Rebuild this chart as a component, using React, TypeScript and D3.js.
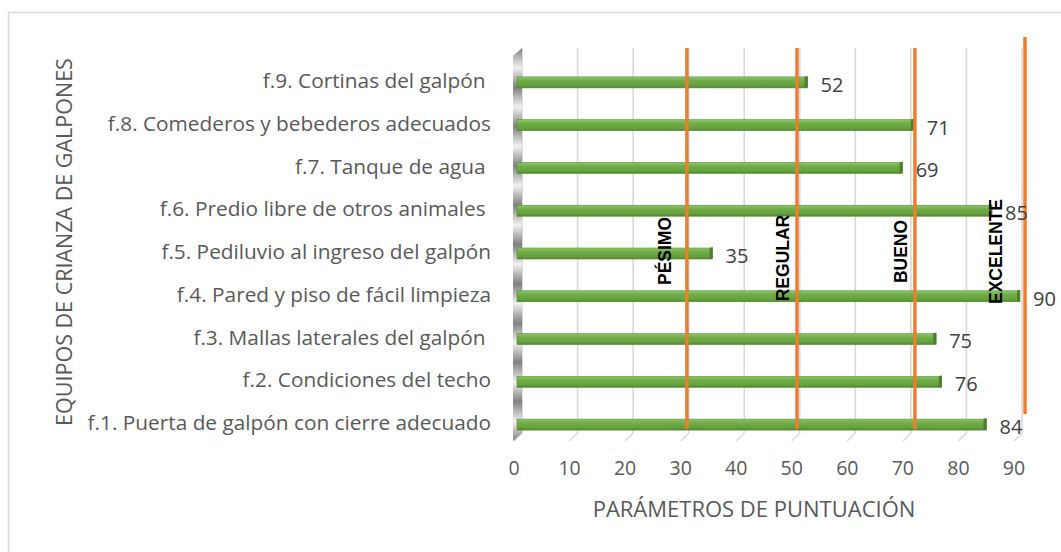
import React from 'react';
import * as d3 from 'd3';

// categories, bottom to top as in the chart
const categories = [
  'f.1. Puerta de galpón con cierre adecuado',
  'f.2. Condiciones del techo',
  'f.3. Mallas laterales del galpón ',
  'f.4. Pared y piso de fácil limpieza',
  'f.5. Pediluvio al ingreso del galpón',
  'f.6. Predio libre de otros animales ',
  'f.7. Tanque de agua ',
  'f.8. Comederos y bebederos adecuados',
  'f.9. Cortinas del galpón ',
];
const scores = [84, 76, 75, 90, 35, 85, 69, 71, 52];

const xTicks = [0, 10, 20, 30, 40, 50, 60, 70, 80, 90];

// rating thresholds (orange lines) and their labels
const zoneNames = ['PÉSIMO', 'REGULAR', 'BUENO', 'EXCELENTE'];
const zoneLimits = [30.4, 50.1, 71.2, 90.9];
const zoneLabelAt = [27.6, 48.6, 69.8, 86.8];

const W = 1061;
const H = 552;
const FONT = "'Open Sans', 'DejaVu Sans', sans-serif";

export default function App() {
  // 3D plot: front plane, mid plane (bars) and back wall
  const xFront = d3.scaleLinear().domain([0, 90]).range([514, 1014]);
  const xMid = d3.scaleLinear().domain([0, 90]).range([517, 1020]);
  const xBack = d3.scaleLinear().domain([0, 90]).range([522, 1022]);
  const y = d3.scaleBand<string>().domain([...categories].reverse()).range([61, 446]).paddingInner(0);

  const floorFront = 441;
  const floorBack = 433;
  const wallTop = 48;
  const barH = 11;

  return (
    <svg width={W} height={H} style={{ position: 'absolute', left: 0, top: 0, background: '#fff' }}>
      <defs>
        <linearGradient id="barGrad" x1="0" y1="0" x2="0" y2="1">
          <stop offset="0" stopColor="#8cc765" />
          <stop offset="0.35" stopColor="#70ad47" />
          <stop offset="0.8" stopColor="#65a03e" />
          <stop offset="1" stopColor="#4d7f2c" />
        </linearGradient>
        <linearGradient id="wallGrad" x1="0" y1="0" x2="0" y2="0.1" spreadMethod="repeat">
          <stop offset="0" stopColor="#6a6a6a" />
          <stop offset="0.5" stopColor="#efefef" />
          <stop offset="1" stopColor="#6a6a6a" />
        </linearGradient>
      </defs>

      {/* chart border (only left and top visible) */}
      <line x1={8.5} y1={12} x2={8.5} y2={H} stroke="#d9d9d9" strokeWidth={1.5} />
      <line x1={8} y1={12.5} x2={W} y2={12.5} stroke="#d9d9d9" strokeWidth={1.5} />

      {/* back gridlines and floor lines */}
      {xTicks.map(t => (
        <g key={`g${t}`}>
          <line x1={xBack(t)} x2={xBack(t)} y1={wallTop} y2={floorBack} stroke="#d9d9d9" strokeWidth={1.6} />
          <line x1={xFront(t)} y1={floorFront} x2={xBack(t)} y2={floorBack} stroke="#dcd6e0" strokeWidth={1.4} />
        </g>
      ))}

      {/* left side wall */}
      <polygon
        points={`${xFront(0) - 1},${wallTop + 8} ${xBack(0)},${wallTop} ${xBack(0)},${floorBack} ${xFront(0) - 1},${floorFront}`}
        fill="url(#wallGrad)"
        opacity={0.85}
      />

      {/* bars */}
      {categories.map((c, i) => {
        const cy = (y(c) ?? 0) + y.bandwidth() / 2;
        const x0 = xMid(0);
        const x1 = xMid(scores[i]);
        return (
          <g key={c}>
            <rect x={x0} y={cy - barH / 2} width={x1 - x0} height={barH} fill="url(#barGrad)" />
            <rect x={x0} y={cy - barH / 2} width={x1 - x0} height={barH} fill="none" stroke="#5b8f3a" strokeWidth={0.6} />
            <polygon
              points={`${x1 - 3},${cy - barH / 2} ${x1},${cy - barH / 2 - 1} ${x1},${cy + barH / 2 - 1} ${x1 - 3},${cy + barH / 2}`}
              fill="#4e7d2f"
            />
          </g>
        );
      })}

      {/* threshold lines */}
      {zoneLimits.map((v, i) => {
        const last = i === zoneLimits.length - 1;
        return (
          <line key={`z${i}`} x1={xMid(v)} x2={xMid(v)} y1={last ? 37 : 48} y2={last ? 414 : 429}
            stroke="#ed7d31" strokeWidth={3.5} />
        );
      })}

      {/* zone labels */}
      {zoneNames.map((n, i) => {
        const zx = xMid(zoneLabelAt[i]);
        const zy = [251, 258, 251.5, 251.5][i];
        return (
          <text key={n} transform={`translate(${zx},${zy}) rotate(-90)`} textAnchor="middle"
            fontFamily="'Liberation Sans', Arial, sans-serif" fontWeight="bold" fontSize={17.5} fill="#000">
            {n}
          </text>
        );
      })}

      {/* value labels */}
      {categories.map((c, i) => {
        const cy = (y(c) ?? 0) + y.bandwidth() / 2;
        return (
          <text key={`v${c}`} x={xMid(scores[i]) + 13} y={cy + 4} dominantBaseline="middle"
            fontFamily={FONT} fontSize={20} fill="#404040">
            {scores[i]}
          </text>
        );
      })}

      {/* category labels */}
      {categories.map(c => {
        const cy = (y(c) ?? 0) + y.bandwidth() / 2;
        return (
          <text key={`c${c}`} x={491} y={cy} textAnchor="end" dominantBaseline="middle"
            fontFamily={FONT} fontSize={20.8} fill="#595959" style={{ whiteSpace: 'pre' }}>
            {c}
          </text>
        );
      })}

      {/* x tick labels */}
      {xTicks.map(t => (
        <text key={`t${t}`} x={xFront(t)} y={470} textAnchor="middle" dominantBaseline="middle"
          fontFamily={FONT} fontSize={19.5} fill="#595959">
          {t}
        </text>
      ))}

      {/* axis titles */}
      <text x={754} y={511} textAnchor="middle" dominantBaseline="middle" fontFamily={FONT} fontSize={22} fill="#595959">
        PARÁMETROS DE PUNTUACIÓN
      </text>
      <text transform="translate(72,242) rotate(-90)" textAnchor="middle" fontFamily={FONT} fontSize={21.5} fill="#595959">
        EQUIPOS DE CRIANZA DE GALPONES
      </text>
    </svg>
  );
}
